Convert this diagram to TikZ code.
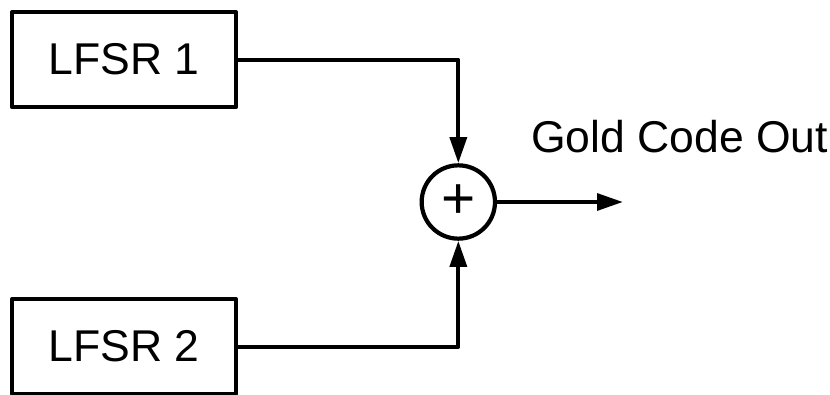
\documentclass[tikz,border=0pt]{standalone}
\usepackage{fontspec}
\setmainfont{Liberation Sans}
\usetikzlibrary{arrows.meta,positioning}
\newcommand{\bigfont}{\fontsize{38}{40}\selectfont}

\begin{document}
\begin{tikzpicture}[>={Triangle[length=7.8mm,width=5mm]},line width=3.6pt,line cap=round,line join=round,
 lfsrbox/.style={draw,rectangle,minimum width=6.72cm,minimum height=2.85cm,inner sep=0pt,font=\bigfont},
 adder/.style={draw,circle,minimum size=2.2cm,inner sep=0pt,font=\fontsize{50}{52}\selectfont}]
\useasboundingbox (0,0) rectangle (24.9,11.82);
% Dwa rejestry LFSR i sumator modulo 2.
\node[lfsrbox] (lfsr1) at (3.72,10.03) {LFSR 1};
\node[lfsrbox] (lfsr2) at (3.72,1.42) {LFSR 2};
\node[adder] (xor) at (13.75,5.76) {+};
\coordinate (out) at (18.69,5.76);
\draw[->] (lfsr1.east) -| (xor.north);
\draw[->] (lfsr2.east) -| (xor.south);
\draw[->] (xor.east) -- (out);
\node[font=\bigfont,anchor=base west] (outlabel) at (15.75,7.26) {Gold Code Out};
\end{tikzpicture}
\end{document}
